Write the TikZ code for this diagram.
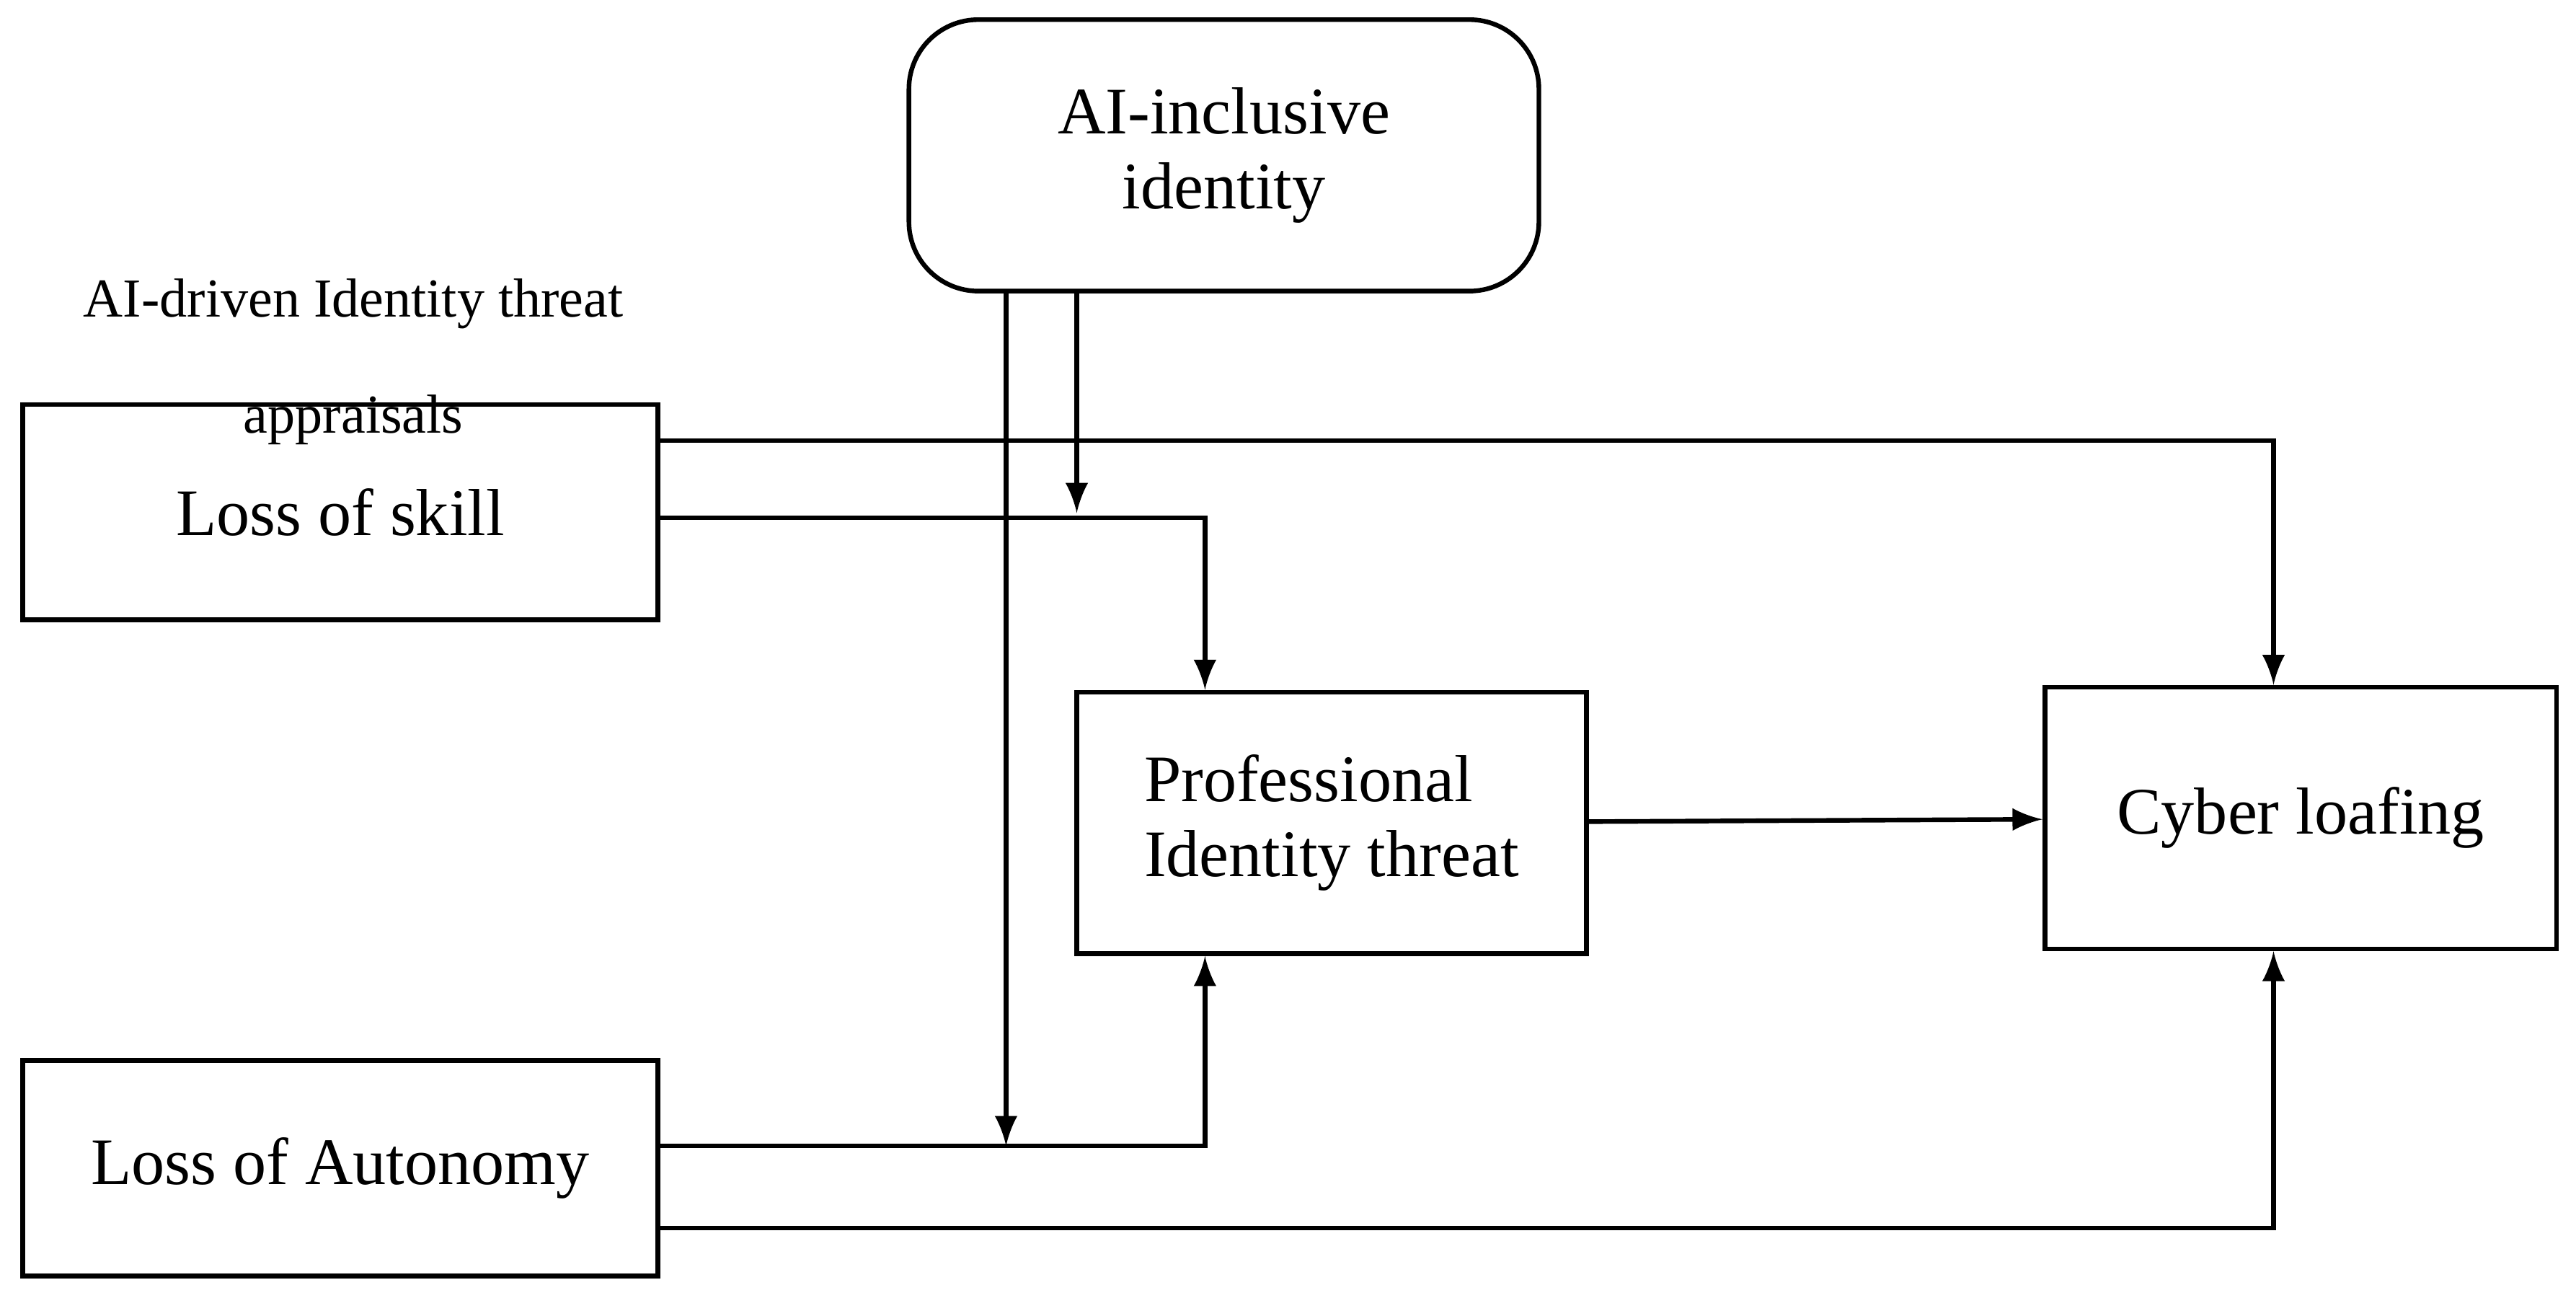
\documentclass[tikz,border=0pt]{standalone}
\usepackage{fontspec}
\setmainfont{Liberation Serif}
\usetikzlibrary{arrows,calc}
\tikzstyle{box} = [draw,thick,inner sep=0pt,align=left,font=\fontsize{11.5}{13}\selectfont]
\tikzstyle{link} = [thick,-latex]
\begin{document}
\begin{tikzpicture}[x=0.01cm,y=-0.01cm]
\useasboundingbox (0,0) rectangle (1567,789);

% Blocks
    \node[box,rounded corners=12pt,minimum width=3.83cm,minimum height=1.65cm,align=center] at (744.5,94.5) (ident) {AI-inclusive\\identity};
    \node[box,minimum width=3.86cm,minimum height=1.31cm] at (207,311.5) (skill) {Loss of skill};
    \node[box,minimum width=3.86cm,minimum height=1.31cm] at (207,710.5) (auto) {Loss of Autonomy};
    \node[box,minimum width=3.10cm,minimum height=1.59cm] at (810,500.5) (prof) {Professional\\Identity threat};
    \node[box,minimum width=3.11cm,minimum height=1.59cm] at (1399.5,497.5) (cyber) {Cyber loafing};
    \node[align=center,font=\fontsize{9.5}{20}\selectfont] at (215,220) (group) {AI-driven Identity threat\\appraisals};

    % join up
    \draw[link] (skill.east |- 0,268) -| (cyber.north -| 1383,0);
    \draw[link] (skill.east |- 0,315) -| (prof.north -| 733,0);
    \draw[link] (auto.east |- 0,697) -| (prof.south -| 733,0);
    \draw[link] (auto.east |- 0,747) -| (cyber.south -| 1383,0);
    \draw[link] (prof) -- (cyber);
    \coordinate (m1) at (655,312);
    \coordinate (m2) at (612,697);
    \draw[link] (ident.south -| m1) -- (m1);
    \draw[link] (ident.south -| m2) -- (m2);
\end{tikzpicture}
\end{document}
